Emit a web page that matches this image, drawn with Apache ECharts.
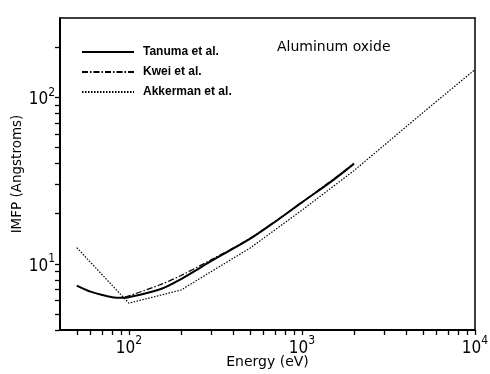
<!DOCTYPE html>
<html>
<head>
<meta charset="utf-8">
<script src="https://cdn.jsdelivr.net/npm/echarts@6/dist/echarts.min.js"></script>
<style>
  html, body { margin: 0; padding: 0; background: #fff; }
  #chart { width: 490px; height: 374px; }
</style>
</head>
<body>
<div id="chart"></div>
<script>
// Inelastic mean free path of electrons in aluminum oxide (log-log)
const seriesNames = ['Tanuma et al.', 'Kwei et al.', 'Akkerman et al.'];

const energyTanuma = [50, 60, 70, 80, 90, 100, 150, 200, 300, 500, 700, 1000, 1500, 2000];
const imfpTanuma   = [7.4, 6.8, 6.5, 6.3, 6.25, 6.3, 7.0, 8.1, 10.4, 14.1, 17.9, 23.4, 31.6, 40];

const energyKwei = [95, 150, 200, 300, 500, 1000, 2000];
const imfpKwei   = [6.3, 7.45, 8.5, 10.6, 14.2, 23.4, 40];

const energyAkkerman = [50, 100, 200, 300, 500, 1000, 2000, 5000, 10000];
const imfpAkkerman   = [12.5, 5.8, 6.95, 9.0, 12.4, 21, 36.3, 81, 147];

const xTickValues  = [50, 60, 70, 80, 90, 100, 200, 300, 400, 500, 600, 700, 800, 900,
                      1000, 2000, 3000, 4000, 5000, 6000, 7000, 8000, 9000, 10000];
const xLabelValues = [100, 1000, 10000];
const yTickValues  = [4, 5, 6, 7, 8, 9, 10, 20, 30, 40, 50, 60, 70, 80, 90, 100, 200];
const yLabelValues = [10, 100];

const FONT = '"DejaVu Sans", sans-serif';
const NUM_FONT = '"Liberation Sans Narrow", "DejaVu Sans Condensed", "Liberation Sans", sans-serif';
const LEGEND_FONT = '"Liberation Sans Narrow", "Liberation Sans", sans-serif';

function pairs(xs, ys) { return xs.map((x, i) => [x, ys[i]]); }
function powLabel(v) { return '{b|10}{s|' + Math.round(Math.log10(v)) + '}'; }

const powRich = {
  b: { fontSize: 17, fontFamily: NUM_FONT, color: '#000', lineHeight: 22, verticalAlign: 'bottom' },
  s: { fontSize: 12, fontFamily: NUM_FONT, color: '#000', lineHeight: 22, verticalAlign: 'top' }
};

const chart = echarts.init(document.getElementById('chart'), null, { renderer: 'canvas' });

chart.setOption({
  backgroundColor: '#fff',
  animation: false,
  title: {
    text: 'Aluminum oxide',
    left: 272, top: 35,
    textStyle: { fontFamily: FONT, fontSize: 14, fontWeight: 'normal', color: '#000' }
  },
  legend: {
    orient: 'vertical',
    left: 76, top: 41,
    itemWidth: 52, itemHeight: 14, itemGap: 8,
    itemStyle: { opacity: 0 },
    textStyle: { fontFamily: LEGEND_FONT, fontSize: 12, fontWeight: 'bold', color: '#000',
                 padding: [0, 0, 0, 4] },
    data: seriesNames
  },
  grid: { left: 60, right: 15, top: 18, bottom: 44, containLabel: false, outerBoundsMode: 'none' },
  xAxis: [{
    type: 'log', logBase: 10, min: 40, max: 10000, position: 'bottom',
    name: 'Energy (eV)', nameLocation: 'middle', nameGap: 25, nameMoveOverlap: false,
    nameTextStyle: { fontFamily: FONT, fontSize: 14, color: '#000' },
    axisLine: { show: true, lineStyle: { color: '#000', width: 2 } },
    axisTick: { show: true, inside: false, length: 5, customValues: xTickValues,
                lineStyle: { color: '#000', width: 1.3 } },
    axisLabel: { show: true, customValues: xLabelValues, formatter: powLabel,
                 rich: powRich, margin: 5 },
    splitLine: { show: false }, minorTick: { show: false }
  }, {
    type: 'log', logBase: 10, min: 40, max: 10000, position: 'top',
    axisLine: { show: true, lineStyle: { color: '#000', width: 1.5 } },
    axisTick: { show: false }, axisLabel: { show: false }, splitLine: { show: false }
  }],
  yAxis: [{
    type: 'log', logBase: 10, min: 4, max: 300, position: 'left',
    name: 'IMFP (Angstroms)', nameLocation: 'middle', nameGap: 36, nameRotate: 90,
    nameMoveOverlap: false,
    nameTextStyle: { fontFamily: FONT, fontSize: 13.5, color: '#000' },
    axisLine: { show: true, lineStyle: { color: '#000', width: 2 } },
    axisTick: { show: true, inside: false, length: 5, customValues: yTickValues,
                lineStyle: { color: '#000', width: 1.3 } },
    axisLabel: { show: true, customValues: yLabelValues, formatter: powLabel,
                 rich: powRich, margin: 5 },
    splitLine: { show: false }, minorTick: { show: false }
  }, {
    type: 'log', logBase: 10, min: 4, max: 300, position: 'right',
    axisLine: { show: true, lineStyle: { color: '#000', width: 1.5 } },
    axisTick: { show: false }, axisLabel: { show: false }, splitLine: { show: false }
  }],
  series: [{
    name: seriesNames[0], type: 'line', xAxisIndex: 0, yAxisIndex: 0,
    data: pairs(energyTanuma, imfpTanuma),
    showSymbol: false, symbol: 'none', smooth: 0.3,
    lineStyle: { color: '#000', width: 2 }, itemStyle: { color: '#000' }, z: 3
  }, {
    name: seriesNames[1], type: 'line', xAxisIndex: 0, yAxisIndex: 0,
    data: pairs(energyKwei, imfpKwei),
    showSymbol: false, symbol: 'none', smooth: 0.3,
    lineStyle: { color: '#000', width: 1.2, type: [6, 2, 1.5, 2] }, itemStyle: { color: '#000' }, z: 2
  }, {
    name: seriesNames[2], type: 'line', xAxisIndex: 0, yAxisIndex: 0,
    data: pairs(energyAkkerman, imfpAkkerman),
    showSymbol: false, symbol: 'none', smooth: false,
    lineStyle: { color: '#000', width: 1.2, type: [1.5, 1.5] }, itemStyle: { color: '#000' }, z: 2
  }]
});
</script>
</body>
</html>
